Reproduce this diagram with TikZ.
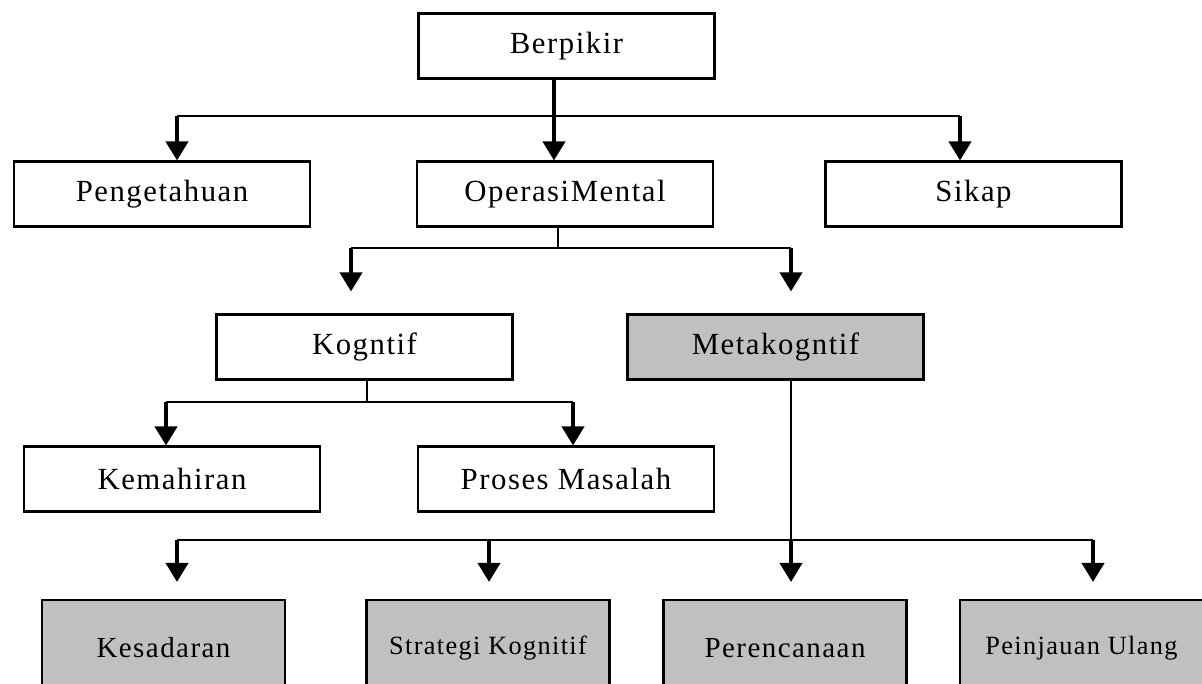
\documentclass[tikz,border=0pt]{standalone}
\usepackage{fontspec}
\setmainfont[LetterSpace=5]{Liberation Serif}
\usepackage{tikz}
\usetikzlibrary{arrows.meta}

\definecolor{metagray}{RGB}{192,192,192}

\begin{document}
\begin{tikzpicture}[x=0.02cm,y=-0.02cm,
    box/.style={draw=black,line width=1.2pt,rectangle,minimum width=5.92cm,minimum height=1.3cm,inner sep=0pt,font=\fontsize{17.5}{20}\selectfont},
    lowbox/.style={box,fill=metagray,minimum width=4.86cm,minimum height=1.92cm,font=\fontsize{16.5}{19}\selectfont},
    arr/.style={line width=2.3pt,-{Triangle[width=0.44cm,length=0.38cm]}},
    ln/.style={line width=1.15pt}]
        \clip (0,0) rectangle (1202,683);
        \begin{scope}
            \node[box] (berpikir) at (566.5,46) {Berpikir};

            \node[box] (pengetahuan) at (162,194) {Pengetahuan};
            \node[box] (operasi) at (565,194) {OperasiMental};
            \node[box] (sikap) at (973.5,194) {Sikap};

            \node[box] (kogntif) at (364.5,347) {Kogntif};
            \node[box,fill=metagray] (meta) at (775.5,347) {Metakogntif};

            \node[box] (kemahiran) at (172,479) {Kemahiran};
            \node[box] (proses) at (566,479) {Proses Masalah};

            \node[lowbox] (kesadaran) at (163.5,648) {Kesadaran};
            \node[lowbox,font=\fontsize{15}{18}\selectfont] (strategi) at (488,648) {Strategi Kognitif};
            \node[lowbox] (perencanaan) at (785,648) {Perencanaan};
            \node[lowbox,font=\fontsize{15}{18}\selectfont] (peinjauan) at (1081.5,648) {Peinjauan Ulang};
        \end{scope}

        % junctions
        \coordinate (b0) at (554,116);
        \coordinate (b1) at (177,116);
        \coordinate (b2) at (960,116);

        \coordinate (o0) at (558,248);
        \coordinate (o1) at (351,248);
        \coordinate (o2) at (791,248);

        \coordinate (k0) at (367,402);
        \coordinate (k1) at (166,402);
        \coordinate (k2) at (573,402);

        \coordinate (m1) at (177,540);
        \coordinate (m2) at (489,540);
        \coordinate (m3) at (791,540);
        \coordinate (m4) at (1093,540);

        \begin{scope}
            \path [ln] (b1) edge (b2);
            \path [arr] (berpikir.south -| b0) edge (operasi.north -| b0);
            \path [arr] (b1) edge (pengetahuan.north -| b1);
            \path [arr] (b2) edge (sikap.north -| b2);

            \path [ln] (operasi.south -| o0) edge (o0);
            \path [ln] (o1) edge (o2);
            \path [arr,shorten >=0.44cm] (o1) edge (kogntif.north -| o1);
            \path [arr,shorten >=0.44cm] (o2) edge (meta.north -| o2);

            \path [ln] (kogntif.south -| k0) edge (k0);
            \path [ln] (k1) edge (k2);
            \path [arr] (k1) edge (kemahiran.north -| k1);
            \path [arr] (k2) edge (proses.north -| k2);

            \path [ln] (meta.south -| m3) edge (m3);
            \path [ln] (m1) edge (m4);
            \path [arr,shorten >=0.34cm] (m1) edge (kesadaran.north -| m1);
            \path [arr,shorten >=0.34cm] (m2) edge (strategi.north -| m2);
            \path [arr,shorten >=0.34cm] (m3) edge (perencanaan.north -| m3);
            \path [arr,shorten >=0.34cm] (m4) edge (peinjauan.north -| m4);
        \end{scope}
    \end{tikzpicture}
\end{document}
